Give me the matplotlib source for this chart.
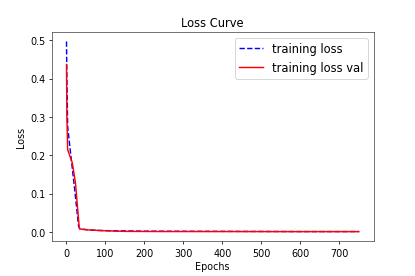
import matplotlib
matplotlib.use("Agg")
import matplotlib.pyplot as plt

# Sparse readings of the curves (epoch, loss)
train_epochs = [0, 1, 3, 10, 20, 31, 35, 50, 80, 120, 200, 400, 600, 750]
train_loss = [0.497, 0.40, 0.275, 0.21, 0.12, 0.015, 0.008, 0.006, 0.004, 0.003, 0.002, 0.0015, 0.001, 0.001]

val_epochs = [0, 1, 3, 8, 15, 23, 33, 40, 60, 100, 150, 250, 400, 600, 750]
val_loss = [0.437, 0.30, 0.215, 0.20, 0.18, 0.128, 0.008, 0.007, 0.005, 0.003, 0.0015, 0.001, 0.001, 0.0008, 0.0008]

fig, ax = plt.subplots(figsize=(6, 4), dpi=415 / 6)
fig.subplots_adjust(left=0.125, right=0.9, bottom=0.126, top=0.882)
ax.plot(train_epochs, train_loss, "b--", label="training loss")
ax.plot(val_epochs, val_loss, "r-", label="training loss val")
ax.set_title("Loss Curve")
ax.set_xlabel("Epochs")
ax.set_ylabel("Loss")
ax.set_xticks([0, 100, 200, 300, 400, 500, 600, 700])
for s in ax.spines.values():
    s.set_color("0.3")
ax.legend(fontsize="large")
fig.savefig("out.png", dpi=415 / 6)
